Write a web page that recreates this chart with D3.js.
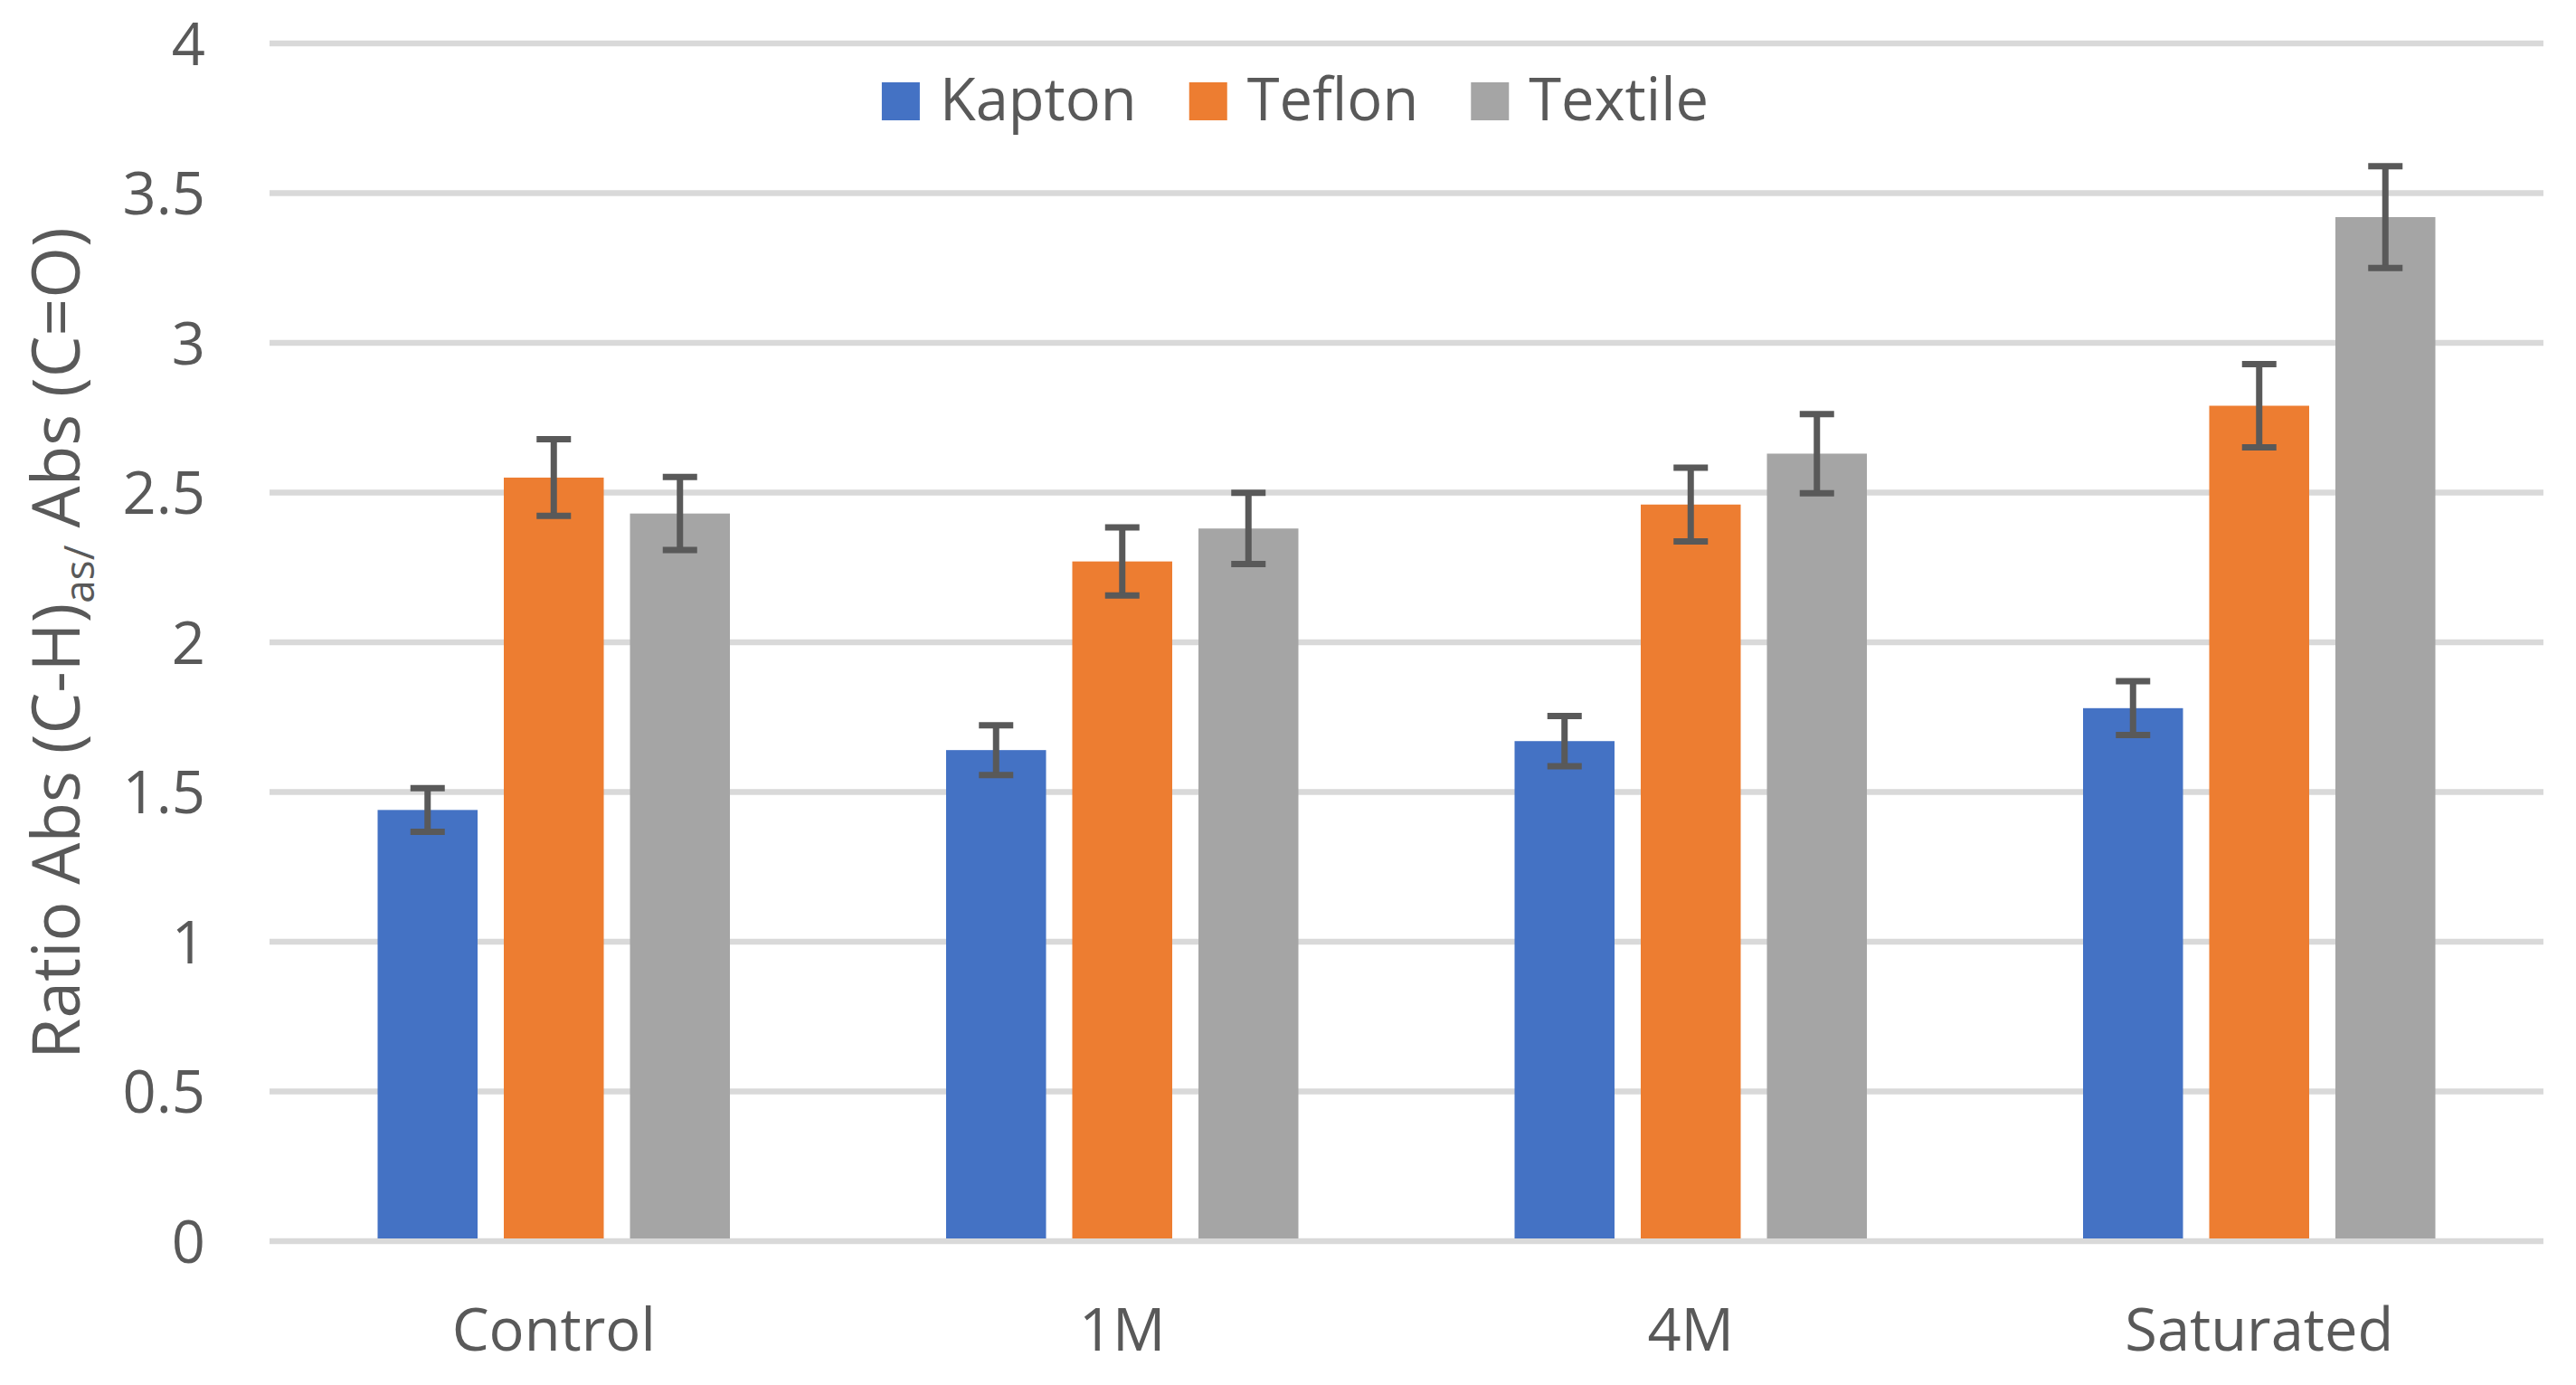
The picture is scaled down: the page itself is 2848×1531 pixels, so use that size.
<!DOCTYPE html>
<html>
<head>
<meta charset="utf-8">
<script src="https://cdn.jsdelivr.net/npm/d3@7/dist/d3.min.js"></script>
<style>
  html, body { margin: 0; padding: 0; background: #ffffff; }
  svg { display: block; }
  text { font-family: "Open Sans", "Noto Sans", sans-serif; fill: #595959; }
</style>
</head>
<body>
<svg id="chart" width="2848" height="1531"></svg>
<script>
// ---- Data ----
const categories = ["Control", "1M", "4M", "Saturated"];
const seriesNames = ["Kapton", "Teflon", "Textile"];
const kaptonValues  = [1.44, 1.64, 1.67, 1.78];
const kaptonErrors  = [0.073, 0.083, 0.084, 0.09];
const teflonValues  = [2.55, 2.27, 2.46, 2.79];
const teflonErrors  = [0.128, 0.114, 0.123, 0.139];
const textileValues = [2.43, 2.38, 2.63, 3.42];
const textileErrors = [0.122, 0.119, 0.132, 0.17];
const yTickValues = [0, 0.5, 1, 1.5, 2, 2.5, 3, 3.5, 4];
const yTickLabels = ["0", "0.5", "1", "1.5", "2", "2.5", "3", "3.5", "4"];
const seriesColors = ["#4472C4", "#ED7D31", "#A5A5A5"];

const seriesValues = [kaptonValues, teflonValues, textileValues];
const seriesErrors = [kaptonErrors, teflonErrors, textileErrors];

// ---- Layout ----
const W = 2848, H = 1531;
const plotLeft = 298, plotRight = 2812, plotTop = 48, plotBottom = 1372;
const fontSize = 65;

const svg = d3.select("#chart");

const x0 = d3.scaleBand().domain(categories).range([plotLeft, plotRight]).paddingInner(0).paddingOuter(0);
const groupWidth = 389.5;
const x1 = d3.scaleBand().domain(seriesNames)
  .range([(x0.bandwidth() - groupWidth) / 2, (x0.bandwidth() + groupWidth) / 2])
  .paddingInner(29 / 139.5).paddingOuter(0);
const y = d3.scaleLinear().domain([0, 4]).range([plotBottom, plotTop]);

// Gridlines
svg.append("g").selectAll("line").data(yTickValues).join("line")
  .attr("x1", plotLeft).attr("x2", plotRight)
  .attr("y1", d => y(d)).attr("y2", d => y(d))
  .attr("stroke", "#d9d9d9").attr("stroke-width", 6.5);

// Y axis labels
const yAxis = d3.axisLeft(y).tickValues(yTickValues)
  .tickFormat((d, i) => yTickLabels[i]).tickSize(0).tickPadding(71);
const gy = svg.append("g").attr("transform", `translate(${plotLeft},0)`).call(yAxis);
gy.select(".domain").remove();
gy.selectAll("text").attr("font-size", fontSize).attr("font-family", null)
  .attr("fill", "#595959").attr("dy", "0.36em");

// X axis labels
const xAxis = d3.axisBottom(x0).tickSize(0);
const gx = svg.append("g").attr("transform", `translate(0,${plotBottom})`).call(xAxis);
gx.select(".domain").remove();
gx.selectAll("text").attr("font-size", fontSize).attr("font-family", null)
  .attr("fill", "#595959").attr("y", 121).attr("dy", 0);

// Bars
const bars = [];
categories.forEach((c, ci) => {
  seriesNames.forEach((s, si) => {
    bars.push({ c, s, si, v: seriesValues[si][ci], e: seriesErrors[si][ci] });
  });
});

svg.append("g").selectAll("rect").data(bars).join("rect")
  .attr("x", d => x0(d.c) + x1(d.s))
  .attr("width", x1.bandwidth())
  .attr("y", d => y(d.v))
  .attr("height", d => y(0) - y(d.v) - 3)
  .attr("fill", d => seriesColors[d.si]);

// Error bars
const capHalf = 19;
const eg = svg.append("g").attr("stroke", "#595959").attr("stroke-width", 7);
const ebs = eg.selectAll("g").data(bars).join("g");
ebs.append("line")
  .attr("x1", d => x0(d.c) + x1(d.s) + x1.bandwidth() / 2)
  .attr("x2", d => x0(d.c) + x1(d.s) + x1.bandwidth() / 2)
  .attr("y1", d => y(d.v + d.e)).attr("y2", d => y(d.v - d.e));
ebs.append("line")
  .attr("x1", d => x0(d.c) + x1(d.s) + x1.bandwidth() / 2 - capHalf)
  .attr("x2", d => x0(d.c) + x1(d.s) + x1.bandwidth() / 2 + capHalf)
  .attr("y1", d => y(d.v + d.e)).attr("y2", d => y(d.v + d.e));
ebs.append("line")
  .attr("x1", d => x0(d.c) + x1(d.s) + x1.bandwidth() / 2 - capHalf)
  .attr("x2", d => x0(d.c) + x1(d.s) + x1.bandwidth() / 2 + capHalf)
  .attr("y1", d => y(d.v - d.e)).attr("y2", d => y(d.v - d.e));

// Legend
const legend = svg.append("g");
const sq = 42, sqGap = 22, itemGap = 58, legendBaseline = 133, legendCenter = 1432;
const items = legend.selectAll("g").data(seriesNames).join("g");
items.append("rect").attr("width", sq).attr("height", sq).attr("y", legendBaseline - sq)
  .attr("fill", (d, i) => seriesColors[i]);
items.append("text").attr("x", sq + sqGap).attr("y", legendBaseline)
  .attr("font-size", fontSize).text(d => d);
let cursor = 0;
const offsets = [];
items.each(function () {
  const w = d3.select(this).select("text").node().getComputedTextLength();
  offsets.push(cursor);
  cursor += sq + sqGap + w + itemGap;
});
const total = cursor - itemGap;
const startX = legendCenter - total / 2;
items.attr("transform", (d, i) => `translate(${startX + offsets[i]},0)`);

// Y axis title
const title = svg.append("text")
  .attr("transform", `translate(88, ${711}) rotate(-90)`)
  .attr("text-anchor", "middle")
  .attr("font-size", 73);
title.append("tspan").text("Ratio Abs (C-H)");
title.append("tspan").attr("font-size", 46).attr("dy", 16).text("as/");
title.append("tspan").attr("dy", -16).text(" Abs (C=O)");
</script>
</body>
</html>
